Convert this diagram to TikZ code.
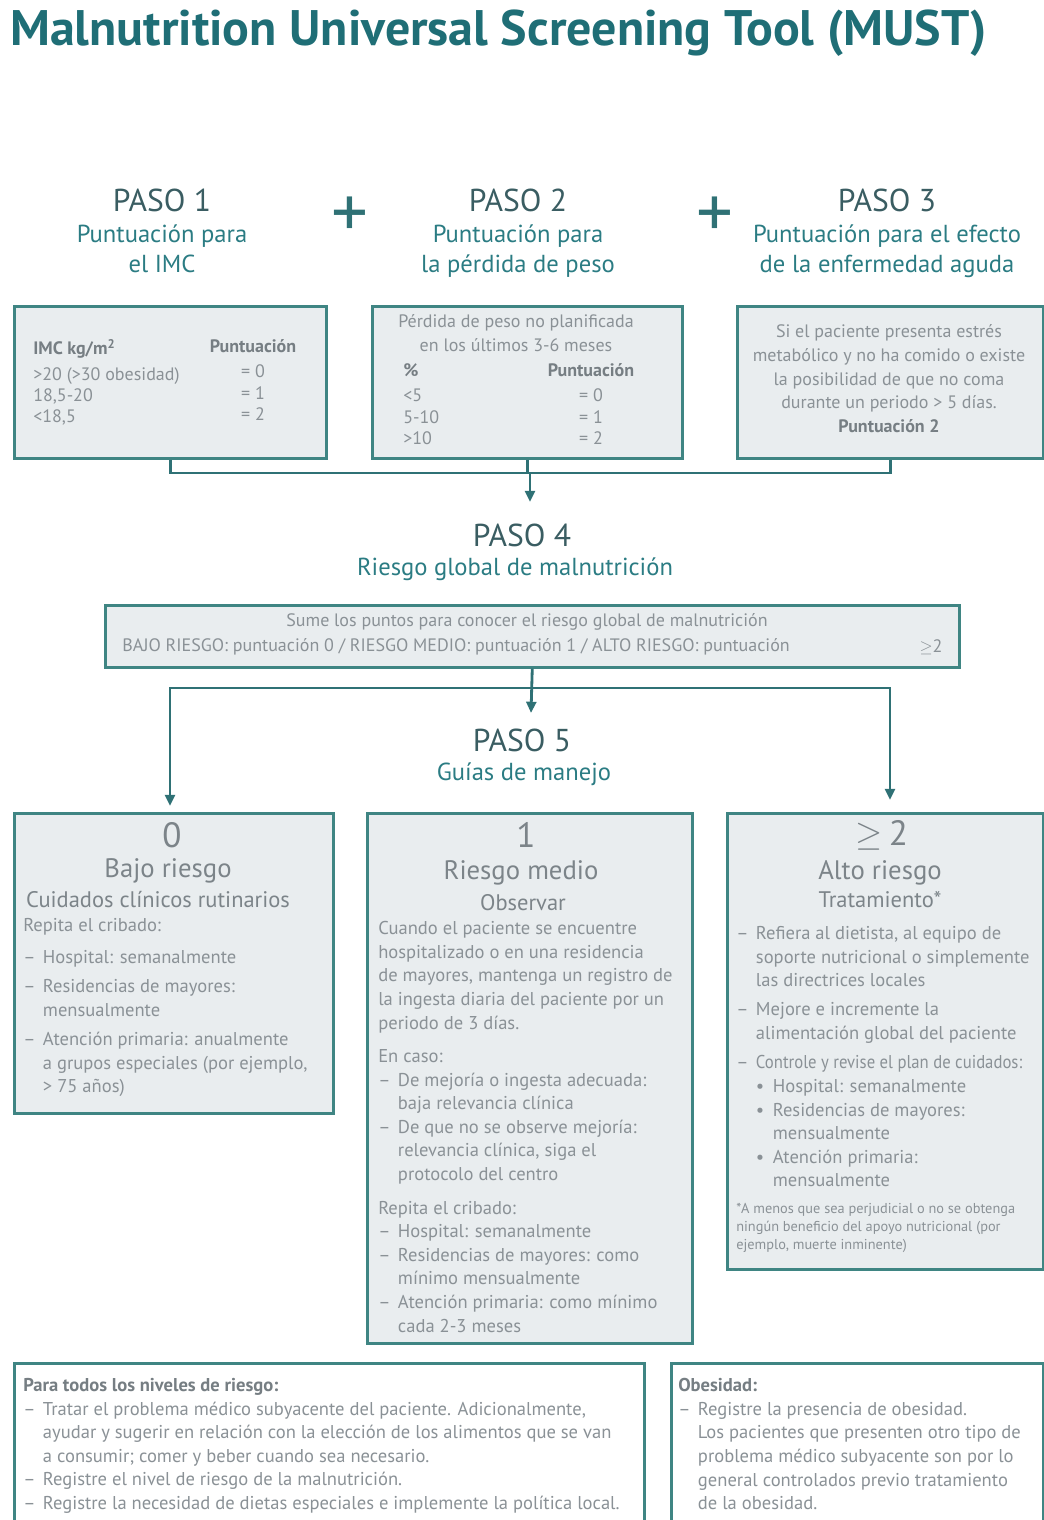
\documentclass[tikz,border=0pt]{standalone}
\usepackage{fontspec}
\usepackage{graphicx}
\setmainfont{PT Sans}
\usetikzlibrary{arrows.meta,positioning}

\definecolor{titleteal}{HTML}{1F6E76}
\definecolor{stepgrey}{HTML}{3A5D62}
\definecolor{subteal}{HTML}{2B7C83}
\definecolor{boxline}{HTML}{3F8583}
\definecolor{boxfill}{HTML}{E9EDEF}
\definecolor{bodygrey}{HTML}{8A9196}
\definecolor{levelgrey}{HTML}{7C8489}
\definecolor{headgrey}{HTML}{767E83}
\definecolor{linkteal}{HTML}{2F7175}

\newcommand{\pxu}{0.025cm}
\newcommand{\dsh}{\makebox[14pt][l]{--}}
\newcommand{\ind}{\hspace*{14pt}}
\newcommand{\bul}{\makebox[12pt][l]{\textbullet}}

\tikzset{
  panel/.style={draw=boxline, line width=1.8pt, fill=boxfill, anchor=north west, inner sep=0pt},
  notepanel/.style={panel, fill=white},
  titletxt/.style={font=\fontsize{35.5}{40}\selectfont\bfseries, text=titleteal, inner sep=0pt},
  stephead/.style={font=\fontsize{22.5}{26}\selectfont, text=stepgrey, inner sep=0pt},
  stepsub/.style={font=\fontsize{17.5}{22}\selectfont, text=subteal, align=center, inner sep=0pt},
  plussign/.style={font=\fontsize{52}{52}\selectfont, text=linkteal, inner sep=0pt},
  tabletxt/.style={font=\fontsize{12.8}{15.2}\selectfont, text=bodygrey, inner sep=0pt},
  bodytxt/.style={font=\fontsize{13.2}{16.8}\selectfont, text=bodygrey, inner sep=0pt, align=left},
  levelnum/.style={font=\fontsize{25}{28}\selectfont, text=levelgrey, inner sep=0pt},
  levelname/.style={font=\fontsize{19}{22}\selectfont, text=levelgrey, inner sep=0pt},
  levelsub/.style={font=\fontsize{16}{18}\selectfont, text=levelgrey, inner sep=0pt},
  link/.style={draw=linkteal, line width=2pt},
  arrow/.style={link, -{Triangle[length=8pt,width=7pt]}}
}

\begin{document}
\begin{tikzpicture}[x=0.025cm, y=-0.025cm]
    \useasboundingbox (0,0) rectangle (1044,1520);

    % Title
    \node[titletxt, anchor=base west] (title) at (10,45) {Malnutrition Universal Screening Tool (MUST)};

    % Step headings 1-3
    \node[stephead] (paso1) at (162,200) {PASO 1};
    \node[stepsub, anchor=north] (sub1) at (162,224) {Puntuación para\\el IMC};
    \node[plussign] (plus1) at (350,217) {+};
    \node[stephead] (paso2) at (518,200) {PASO 2};
    \node[stepsub, anchor=north] (sub2) at (518,224) {Puntuación para\\la pérdida de peso};
    \node[plussign] (plus2) at (715,217) {+};
    \node[stephead] (paso3) at (887,200) {PASO 3};
    \node[stepsub, anchor=north] (sub3) at (887,224) {Puntuación para el efecto\\de la enfermedad aguda};

    % Score boxes
    \node[panel, minimum width=312*\pxu, minimum height=152*\pxu] (imc) at (13,305) {};
    \node[panel, minimum width=310*\pxu, minimum height=152*\pxu] (peso) at (371,305) {};
    \node[panel, minimum width=306*\pxu, minimum height=152*\pxu] (aguda) at (736,305) {};

    \node[tabletxt, align=left, anchor=north west] (imcl) at (33,339)
        {\textcolor{headgrey}{\bfseries IMC kg/m\textsuperscript{2}}\\[3pt]>20 (>30 obesidad)\\18,5-20\\<18,5};
    \node[tabletxt, align=center, anchor=north] (imcr) at (253,339)
        {\textcolor{headgrey}{\bfseries Puntuación}\\[3pt]= 0\\= 1\\= 2};

    \node[tabletxt, align=center, anchor=north] (pesot) at (516,314)
        {Pérdida de peso no planificada\\[2pt]en los últimos 3-6 meses};
    \node[tabletxt, align=left, anchor=north west] (pesol) at (403,363)
        {\textcolor{headgrey}{\bfseries\%}\\[3pt]<5\\5-10\\>10};
    \node[tabletxt, align=center, anchor=north] (pesor) at (591,363)
        {\textcolor{headgrey}{\bfseries Puntuación}\\[3pt]= 0\\= 1\\= 2};

    \node[tabletxt, align=center, anchor=north, font=\fontsize{12.8}{17}\selectfont] (agudat) at (889,324)
        {Si el paciente presenta estrés\\metabólico y no ha comido o existe\\la posibilidad de que no coma\\durante un periodo > 5 días.\\\textcolor{headgrey}{\bfseries Puntuación 2}};

    % Join of steps 1-3
    \coordinate (bus1) at (530,473);
    \coordinate (tip4) at (530,502);
    \draw[link] (imc.south) |- (bus1) -| (aguda.south);
    \draw[link] (peso.south) |- (bus1);
    \draw[arrow] (bus1) -- (tip4);

    % Step 4
    \node[stephead] (paso4) at (522,535) {PASO 4};
    \node[stepsub] (sub4) at (515,569) {Riesgo global de malnutrición};
    \node[panel, minimum width=854*\pxu, minimum height=62*\pxu] (suma) at (104,604) {};
    \node[tabletxt] (sumat) at (527,622) {Sume los puntos para conocer el riesgo global de malnutrición};
    \node[tabletxt, anchor=west] (sumal) at (122,647) {BAJO RIESGO: puntuación 0 / RIESGO MEDIO: puntuación 1 / ALTO RIESGO: puntuación};
    \node[tabletxt] (sumar) at (931,647) {$\geq$2};

    % Branches to step 5
    \coordinate (bus2) at (531,688);
    \coordinate (tip5) at (531,713);
    \coordinate (tipa) at (170,806);
    \coordinate (tipc) at (890,800);
    \draw[arrow] (suma.south) -- (tip5);
    \draw[arrow] (bus2) -| (tipa);
    \draw[arrow] (bus2) -| (tipc);

    % Step 5
    \node[stephead] (paso5) at (522,740) {PASO 5};
    \node[stepsub] (sub5) at (524,774) {Guías de manejo};

    % Risk level boxes
    \node[panel, minimum width=319*\pxu, minimum height=300*\pxu] (bajo) at (13,812) {};
    \node[panel, minimum width=325*\pxu, minimum height=530*\pxu] (medio) at (366,812) {};
    \node[panel, minimum width=316*\pxu, minimum height=456*\pxu] (alto) at (726,812) {};

    \node[levelnum] (num0) at (172,835) {0};
    \node[levelname] (bajon) at (168,871) {Bajo riesgo};
    \node[levelsub] (bajos) at (158,900) {Cuidados clínicos rutinarios};
    \node[bodytxt, anchor=north west] (bajob) at (23,918)
        {Repita el cribado:\\[6pt]
         \dsh Hospital: semanalmente\\[4pt]
         \dsh Residencias de mayores:\\
         \ind mensualmente\\[4pt]
         \dsh Atención primaria: anualmente\\
         \ind a grupos especiales (por ejemplo,\\
         \ind > 75 años)};

    \node[levelnum] (num1) at (526,835) {1};
    \node[levelname] (medion) at (521,873) {Riesgo medio};
    \node[levelsub] (medios) at (523,903) {Observar};
    \node[bodytxt, anchor=north west] (mediob) at (378,921)
        {Cuando el paciente se encuentre\\
         hospitalizado o en una residencia\\
         de mayores, mantenga un registro de\\
         la ingesta diaria del paciente por un\\
         periodo de 3 días.\\[7pt]
         En caso:\\
         \dsh De mejoría o ingesta adecuada:\\
         \ind baja relevancia clínica\\
         \dsh De que no se observe mejoría:\\
         \ind relevancia clínica, siga el\\
         \ind protocolo del centro\\[7pt]
         Repita el cribado:\\
         \dsh Hospital: semanalmente\\
         \dsh Residencias de mayores: como\\
         \ind mínimo mensualmente\\
         \dsh Atención primaria: como mínimo\\
         \ind cada 2-3 meses};

    \node[levelnum] (num2) at (882,835) {$\geq$\,2};
    \node[levelname] (alton) at (880,873) {Alto riesgo};
    \node[levelsub] (altos) at (880,900) {Tratamiento*};
    \node[bodytxt, anchor=north west] (altob) at (736,926)
        {\dsh Refiera al dietista, al equipo de\\
         \ind soporte nutricional o simplemente\\
         \ind las directrices locales\\[4pt]
         \dsh Mejore e incremente la\\
         \ind alimentación global del paciente\\[4pt]
         \dsh \scalebox{0.9}[1]{Controle y revise el plan de cuidados:}\\
         \ind\bul Hospital: semanalmente\\
         \ind\bul Residencias de mayores:\\
         \ind\hspace*{12pt}mensualmente\\
         \ind\bul Atención primaria:\\
         \ind\hspace*{12pt}mensualmente};
    \node[bodytxt, anchor=north west, font=\fontsize{10.2}{12.8}\selectfont] (altof) at (736,1203)
        {*A menos que sea perjudicial o no se obtenga\\
         ningún beneficio del apoyo nutricional (por\\
         ejemplo, muerte inminente)};

    % Notes at the foot
    \node[notepanel, minimum width=630*\pxu, minimum height=170*\pxu] (todos) at (13,1362) {};
    \node[notepanel, minimum width=372*\pxu, minimum height=170*\pxu] (obes) at (670,1362) {};

    \node[bodytxt, anchor=north west] (todost) at (23,1378)
        {\textcolor{headgrey}{\bfseries Para todos los niveles de riesgo:}\\
         \dsh Tratar el problema médico subyacente del paciente. Adicionalmente,\\
         \ind ayudar y sugerir en relación con la elección de los alimentos que se van\\
         \ind a consumir; comer y beber cuando sea necesario.\\
         \dsh Registre el nivel de riesgo de la malnutrición.\\
         \dsh Registre la necesidad de dietas especiales e implemente la política local.};
    \node[bodytxt, anchor=north west] (obest) at (678,1378)
        {\textcolor{headgrey}{\bfseries Obesidad:}\\
         \dsh Registre la presencia de obesidad.\\
         \ind Los pacientes que presenten otro tipo de\\
         \ind problema médico subyacente son por lo\\
         \ind general controlados previo tratamiento\\
         \ind de la obesidad.};
\end{tikzpicture}
\end{document}
